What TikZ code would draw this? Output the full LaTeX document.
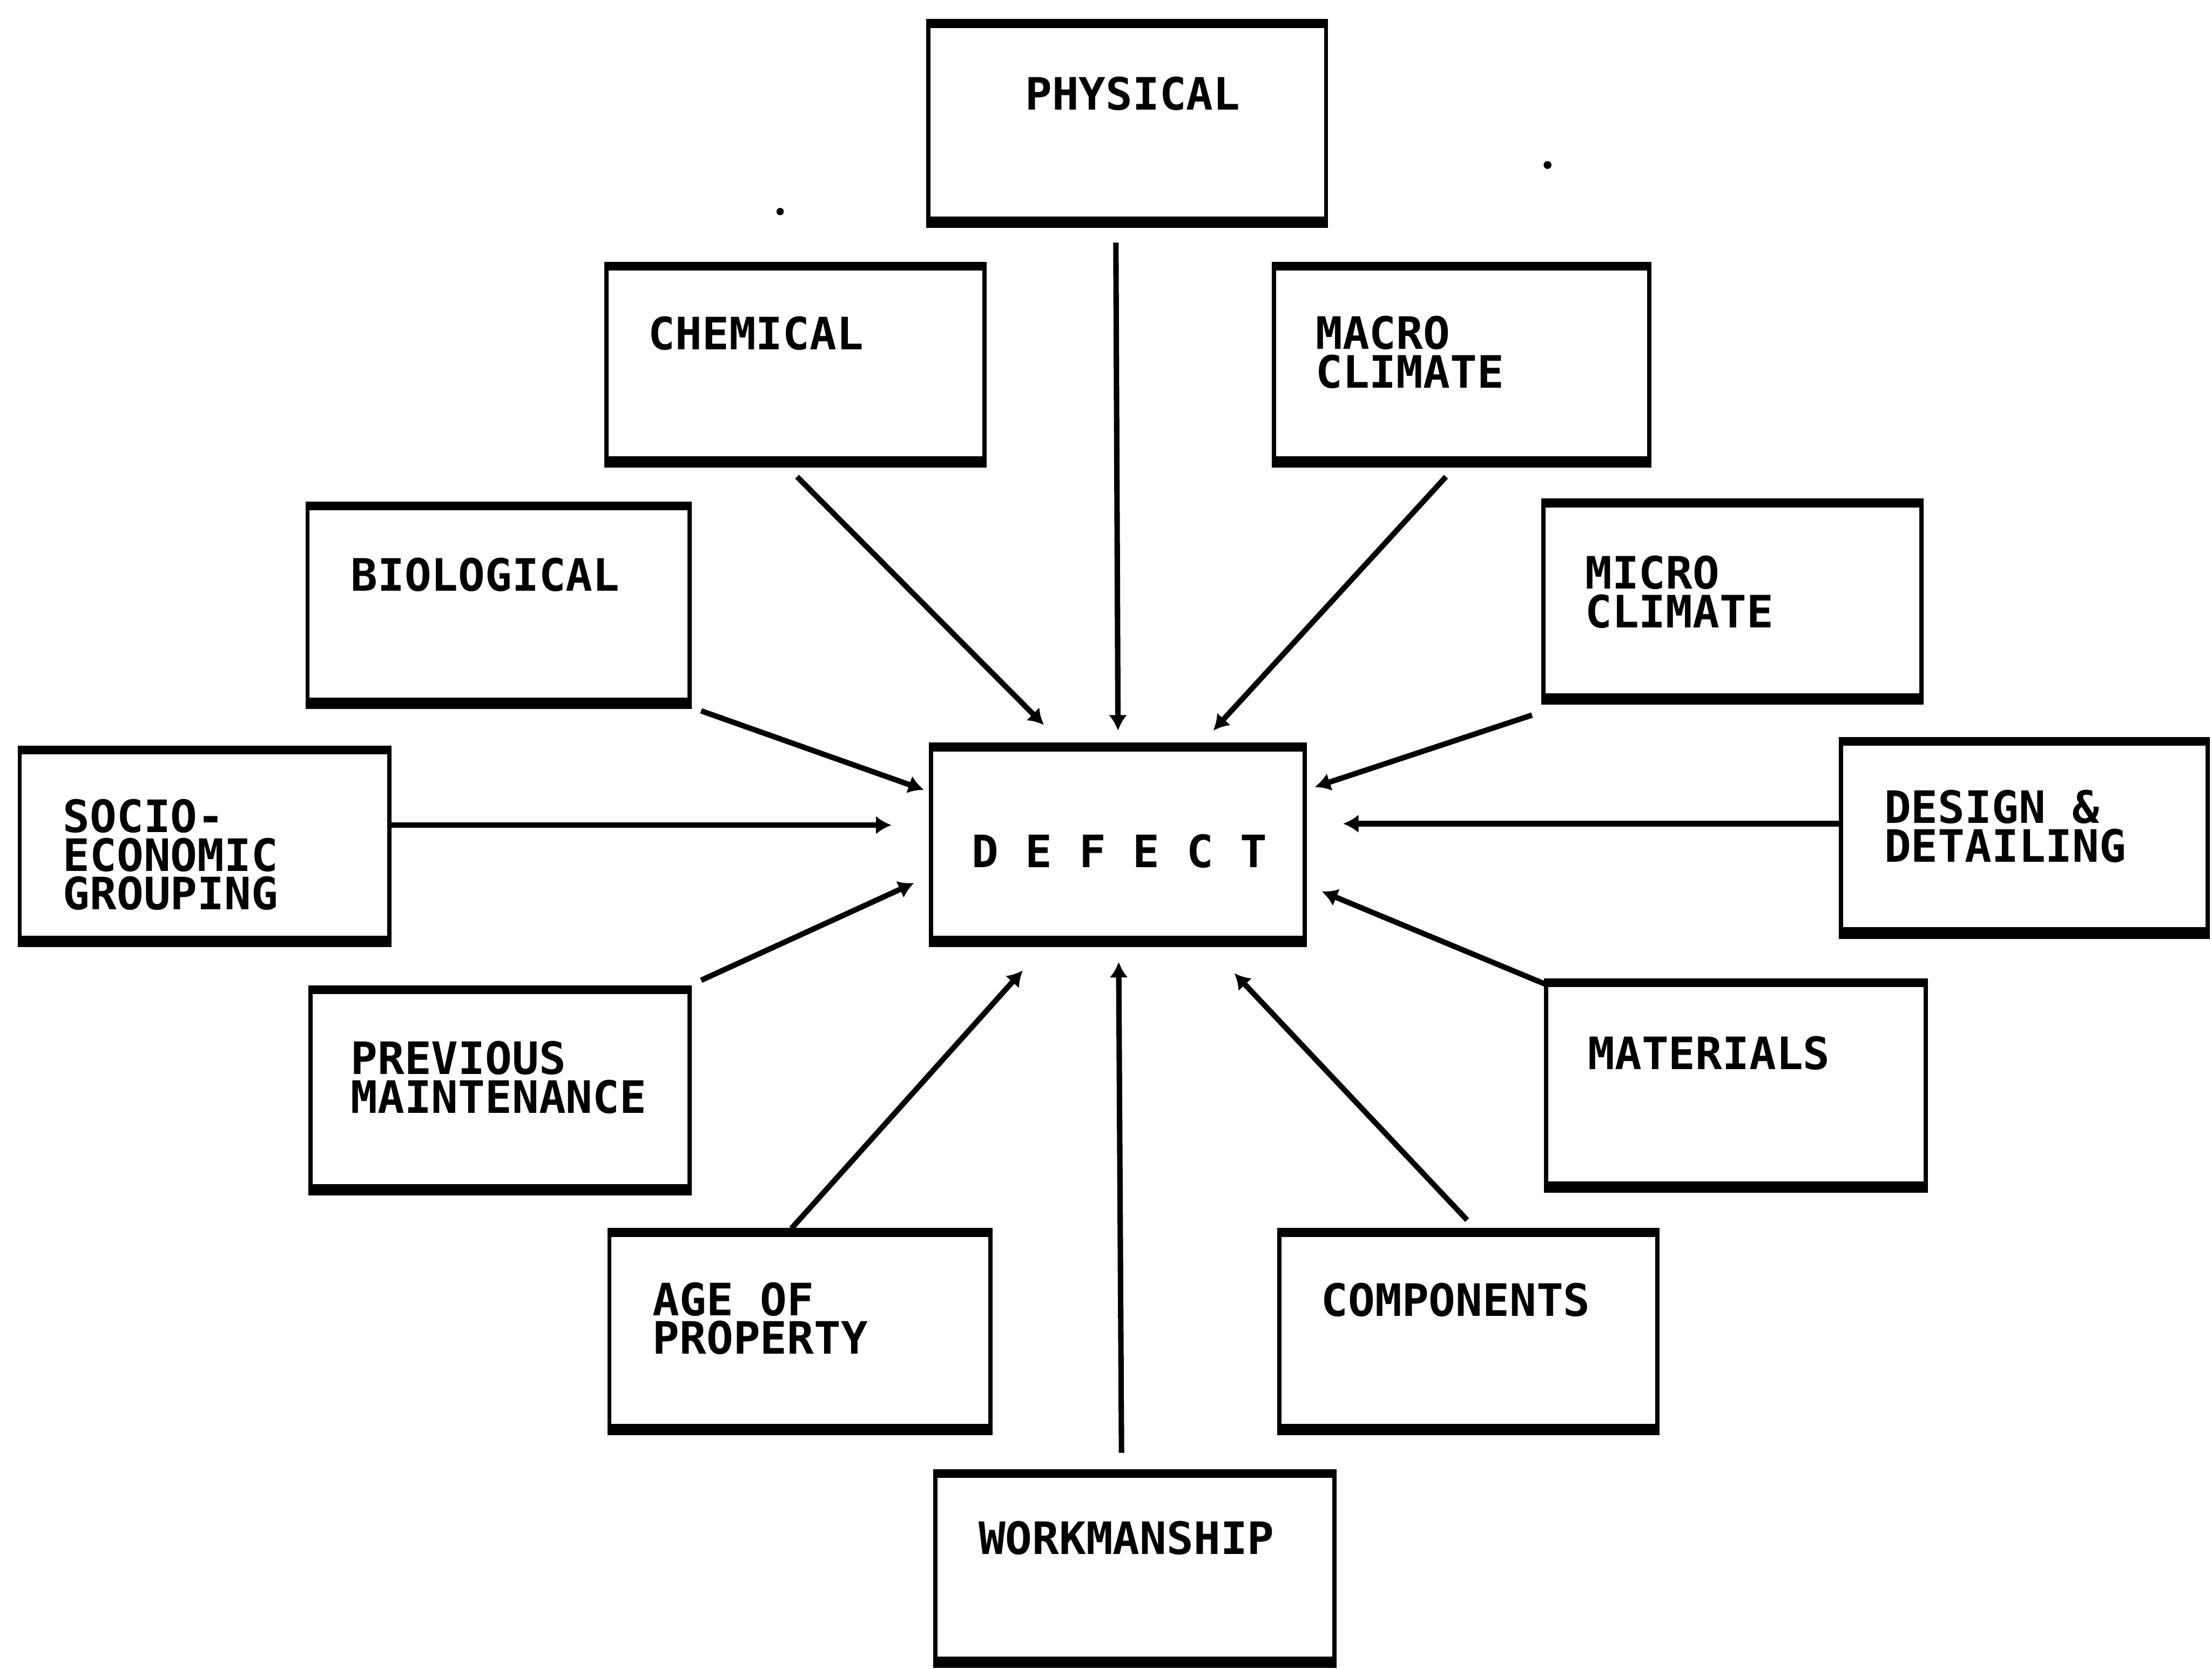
\documentclass[tikz,border=0pt]{standalone}
\usepackage{fontspec}
\newfontfamily\labelfont{DejaVu Sans Mono}
\usetikzlibrary{calc,fit,arrows.meta}
\begin{document}
\begin{tikzpicture}[x=0.01cm,y=-0.01cm,
  box/.style={draw, line width=0.85pt, inner sep=0pt, outer sep=0pt},
  lbl/.style={anchor=base west, inner sep=0pt, align=left,
    font=\labelfont\bfseries\fontsize{9}{7.8}\selectfont},
  feed/.style={line width=1.1pt, -{Latex[length=1.1mm,width=1.3mm]}}]
\clip (0,0) rectangle (1568,1183);
\fill[white] (0,0) rectangle (1568,1183);

% factor boxes around the central box
\node[box, fit={(658,15)(940,160)}]    (phys)   {};
\node[box, fit={(430,187)(698,330)}]   (chem)   {};
\node[box, fit={(903,187)(1169,330)}]  (macro)  {};
\node[box, fit={(218,357)(489,501)}]   (bio)    {};
\node[box, fit={(1094,355)(1362,498)}] (micro)  {};
\node[box, fit={(14,530)(276,670)}]    (socio)  {};
\node[box, fit={(660,528)(925,670)}]   (defect) {};
\node[box, fit={(1305,524)(1565,664)}] (design) {};
\node[box, fit={(220,700)(489,846)}]   (prev)   {};
\node[box, fit={(1096,695)(1365,844)}] (mat)    {};
\node[box, fit={(432,872)(702,1016)}]  (age)    {};
\node[box, fit={(907,872)(1175,1016)}] (comp)   {};
\node[box, fit={(663,1043)(946,1181)}] (work)   {};

% heavier top and bottom rules on every box
\foreach \n in {phys,chem,macro,bio,micro,socio,defect,design,prev,mat,age,comp,work}{
  \draw[line width=1.8pt] ($(\n.north west)+(-1.5,1.7)$) -- ($(\n.north east)+(1.5,1.7)$);
  \draw[line width=2.3pt] ($(\n.south west)+(-1.5,-2.5)$) -- ($(\n.south east)+(1.5,-2.5)$);
}

% labels (multi-line labels are placed by their last baseline)
\node[lbl] (phys-t)   at (726,78)   {PHYSICAL};
\node[lbl] (chem-t)   at (459,248)  {CHEMICAL};
\node[lbl] (macro-t)  at (932,275)  {MACRO\\CLIMATE};
\node[lbl] (bio-t)    at (248,419)  {BIOLOGICAL};
\node[lbl] (micro-t)  at (1123,445) {MICRO\\CLIMATE};
\node[lbl] (socio-t)  at (44,645)   {SOCIO-\\ECONOMIC\\GROUPING};
\node[lbl, anchor=base] (defect-t) at (793.5,615) {D E F E C T};
\node[lbl] (design-t) at (1335,611) {DESIGN \&\\DETAILING};
\node[lbl] (prev-t)   at (248,789)  {PREVIOUS\\MAINTENANCE};
\node[lbl] (mat-t)    at (1125,758) {MATERIALS};
\node[lbl] (age-t)    at (462,960)  {AGE OF\\PROPERTY};
\node[lbl] (comp-t)   at (936,933)  {COMPONENTS};
\node[lbl] (work-t)   at (693,1102) {WORKMANSHIP};

% connectors into DEFECT
\draw[feed] ($(phys.south)+(-8,12)$)       -- ($(defect.north)+(0,-10)$);
\draw[feed] ($(chem.south)+(1,8)$)         -- ($(defect.north west)+(80,-14)$);
\draw[feed] ($(macro.south)+(-11,8)$)      -- ($(defect.north east)+(-65,-10)$);
\draw[feed] ($(bio.south east)+(8,3)$)     -- ($(defect.north west)+(-5,32)$);
\draw[feed] ($(micro.south west)+(-8,9)$)  -- ($(defect.north east)+(7,30)$);
\draw[feed] ($(socio.east)+(0,-15)$)       -- ($(defect.west)+(-28,-14)$);
\draw[feed] ($(design.west)+(0,-10)$)      -- ($(defect.east)+(27,-15)$);
\draw[feed] ($(prev.north east)+(8,-5)$)   -- ($(defect.south west)+(-12,-44)$);
\draw[feed] ($(mat.north west)+(0,3)$)     -- ($(defect.south east)+(12,-38)$);
\draw[feed] ($(age.north)+(-6,-1)$)        -- ($(defect.south west)+(65,18)$);
\draw[feed] ($(comp.north)+(-1,-7)$)       -- ($(defect.south east)+(-50,20)$);
\draw[feed] ($(work.north)+(-9.5,-13)$)    -- ($(defect.south)+(0.5,12)$);

% two small specks
\fill (553,150) circle (2.6);
\fill (1097,117) circle (2.8);
\end{tikzpicture}
\end{document}
